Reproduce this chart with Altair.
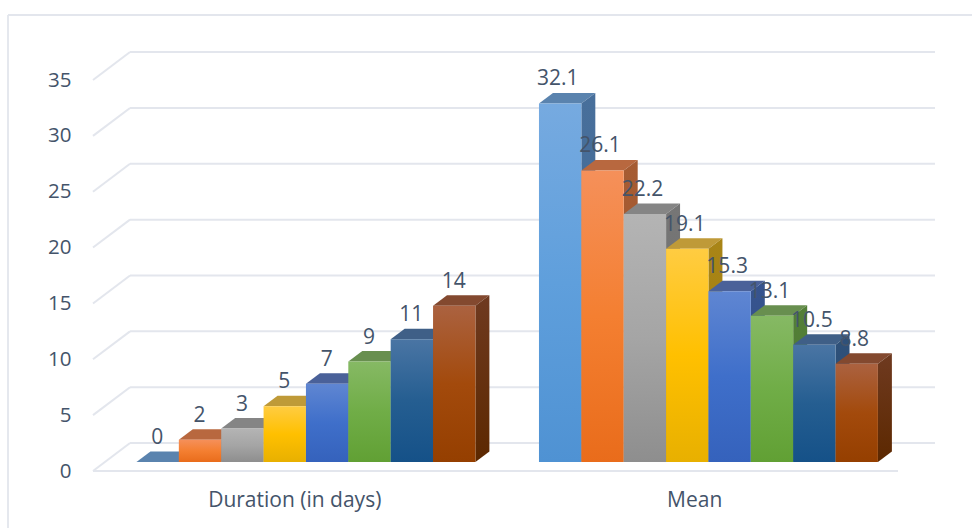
import altair as alt
import pandas as pd

categories = ["Duration (in days)", "Mean"]
duration_values = [0, 2, 3, 5, 7, 9, 11, 14]
mean_values = [32.1, 26.1, 22.2, 19.1, 15.3, 13.1, 10.5, 8.8]
y_ticks = [0, 5, 10, 15, 20, 25, 30, 35]

# front gradient (top, middle, bottom), roof colour, side gradient (top, bottom)
front_colors = [
    ("#76aae0", "#5f9fdc", "#4f92d3"),
    ("#f5905a", "#f47f31", "#e96c1b"),
    ("#b4b4b4", "#a5a5a5", "#8e8e8e"),
    ("#ffcc42", "#ffc000", "#e8b000"),
    ("#5f86d2", "#3f6fca", "#3562bc"),
    ("#86b964", "#70ad47", "#61a034"),
    ("#4a75a4", "#255e91", "#155188"),
    ("#ab6240", "#a34a0c", "#953f00"),
]
roof_colors = ["#5a83ae", "#b8683f", "#858585", "#bf9a38", "#4a6199", "#688f4f", "#3f5f87", "#83492f"]
side_colors = [
    ("#486f9b", "#3f6994"),
    ("#a65c33", "#a0552a"),
    ("#767676", "#6c6c6c"),
    ("#a98517", "#a07c08"),
    ("#37548e", "#2f4c88"),
    ("#537f38", "#4c7a2e"),
    ("#2f517a", "#254a72"),
    ("#6f3a20", "#5c2800"),
]

TEXT = "#44546a"
GRID = "#e3e6ed"
FONT = "Open Sans"

# Slots along x are one bar wide; every group holds eight bars plus a 150% gap.
SLOTS_PER_GROUP = 9.5
GROUP_INSET = 0.75
FLOOR_DX, FLOOR_DY = 0.874, 2.5   # depth of the floor and back wall
BAR_LIFT_X, BAR_LIFT_Y = 0.276, 0.8  # bars stand part way into the floor
BAR_DX, BAR_DY = 0.33, 0.94       # depth of each bar

x_scale = alt.Scale(domain=[0, 2 * SLOTS_PER_GROUP], nice=False, zero=False)
y_scale = alt.Scale(domain=[0, 35], nice=False, zero=False)

x_axis = alt.Axis(
    values=[SLOTS_PER_GROUP / 2, SLOTS_PER_GROUP * 1.5 - 0.06],
    labelExpr=f"datum.value < {SLOTS_PER_GROUP} ? '{categories[0]}' : '{categories[1]}'",
    domain=False, ticks=False, grid=False, title=None, labelPadding=18,
    labelFont=FONT, labelFontSize=21, labelColor=TEXT, labelFlush=False,
)
y_axis = alt.Axis(
    values=y_ticks, domain=False, ticks=False, grid=False, title=None, labelPadding=22,
    labelFont=FONT, labelFontSize=20.5, labelColor=TEXT,
)


def X(field="x"):
    return alt.X(f"{field}:Q", scale=x_scale, axis=x_axis)


def Y(field="y"):
    return alt.Y(f"{field}:Q", scale=y_scale, axis=y_axis)


def vertical(stops):
    n = len(stops) - 1
    return alt.Gradient(
        gradient="linear", x1=0, x2=0, y1=0, y2=1,
        stops=[alt.GradientStop(offset=i / n, color=c) for i, c in enumerate(stops)],
    )


# Outer frame: only the top and left edges are inked.
frame = [
    alt.Chart(pd.DataFrame({"k": [0]})).mark_rule(color=GRID, strokeWidth=1.8).encode(
        x=alt.value(-85), x2=alt.value(879), y=alt.value(-65), y2=alt.value(-65)
    ),
    alt.Chart(pd.DataFrame({"k": [0]})).mark_rule(color=GRID, strokeWidth=1.8).encode(
        x=alt.value(-85), x2=alt.value(-85), y=alt.value(-65), y2=alt.value(448)
    ),
]

# Back wall gridlines with their diagonal run down to the front of the floor.
grid_rows = []
for t in y_ticks:
    grid_rows.append({"x": FLOOR_DX, "x2": 2 * SLOTS_PER_GROUP + FLOOR_DX, "y": t + FLOOR_DY, "y2": t + FLOOR_DY})
    grid_rows.append({"x": 0, "x2": FLOOR_DX, "y": t, "y2": t + FLOOR_DY})
grid_rows.append({"x": 0, "x2": 2 * SLOTS_PER_GROUP, "y": 0, "y2": 0})
grid = alt.Chart(pd.DataFrame(grid_rows)).mark_rule(color=GRID, strokeWidth=2).encode(
    x=X(), x2="x2:Q", y=Y(), y2="y2:Q"
)

bar_layers = []
label_rows = [[], []]
for g, values in enumerate([duration_values, mean_values]):
    for i, v in enumerate(values):
        x0 = g * SLOTS_PER_GROUP + GROUP_INSET + BAR_LIFT_X + i
        x1 = x0 + 1
        lo = BAR_LIFT_Y
        hi = BAR_LIFT_Y + v
        roof = pd.DataFrame({
            "x": [x0, x0 + BAR_DX, x1, x1 + BAR_DX],
            "y": [hi, hi + BAR_DY, hi + BAR_DY, hi + BAR_DY],
            "y2": [hi, hi, hi, hi + BAR_DY],
        })
        side = pd.DataFrame({
            "x": [x1, x1 + BAR_DX],
            "y": [hi, hi + BAR_DY],
            "y2": [lo, lo + BAR_DY],
        })
        front = pd.DataFrame({"x": [x0], "x2": [x1], "y": [hi], "y2": [lo]})
        bar_layers.append(
            alt.Chart(roof).mark_area(color=roof_colors[i], interpolate="linear", orient="vertical").encode(
                x=X(), y=Y(), y2="y2:Q")
        )
        if v > 0:
            bar_layers.append(
                alt.Chart(side).mark_area(color=vertical(side_colors[i]), interpolate="linear", orient="vertical").encode(
                    x=X(), y=Y(), y2="y2:Q")
            )
            bar_layers.append(
                alt.Chart(front).mark_rect(color=vertical(front_colors[i])).encode(
                    x=X(), x2="x2:Q", y=Y(), y2="y2:Q")
            )
        label_rows[g].append({"x": x0 + 0.5, "y": hi, "label": str(v)})

# The second group's labels sit a touch left of their bars.
label_layers = [
    alt.Chart(pd.DataFrame(rows)).mark_text(
        font=FONT, fontSize=21, color=TEXT, baseline="middle", align="center", dy=-24, dx=shift
    ).encode(x=X(), y=Y(), text="label:N")
    for rows, shift in zip(label_rows, [-0.5, -2.5])
]

chart = alt.layer(*frame, grid, *bar_layers, *label_layers).properties(
    width=805,
    height=391,
    padding={"left": 93, "top": 80, "right": 74, "bottom": 57},
    autosize=alt.AutoSizeParams(type="none"),
    background="white",
).configure_view(stroke=None)

chart.save("out.html", embed_options={"renderer": "svg", "actions": False})
